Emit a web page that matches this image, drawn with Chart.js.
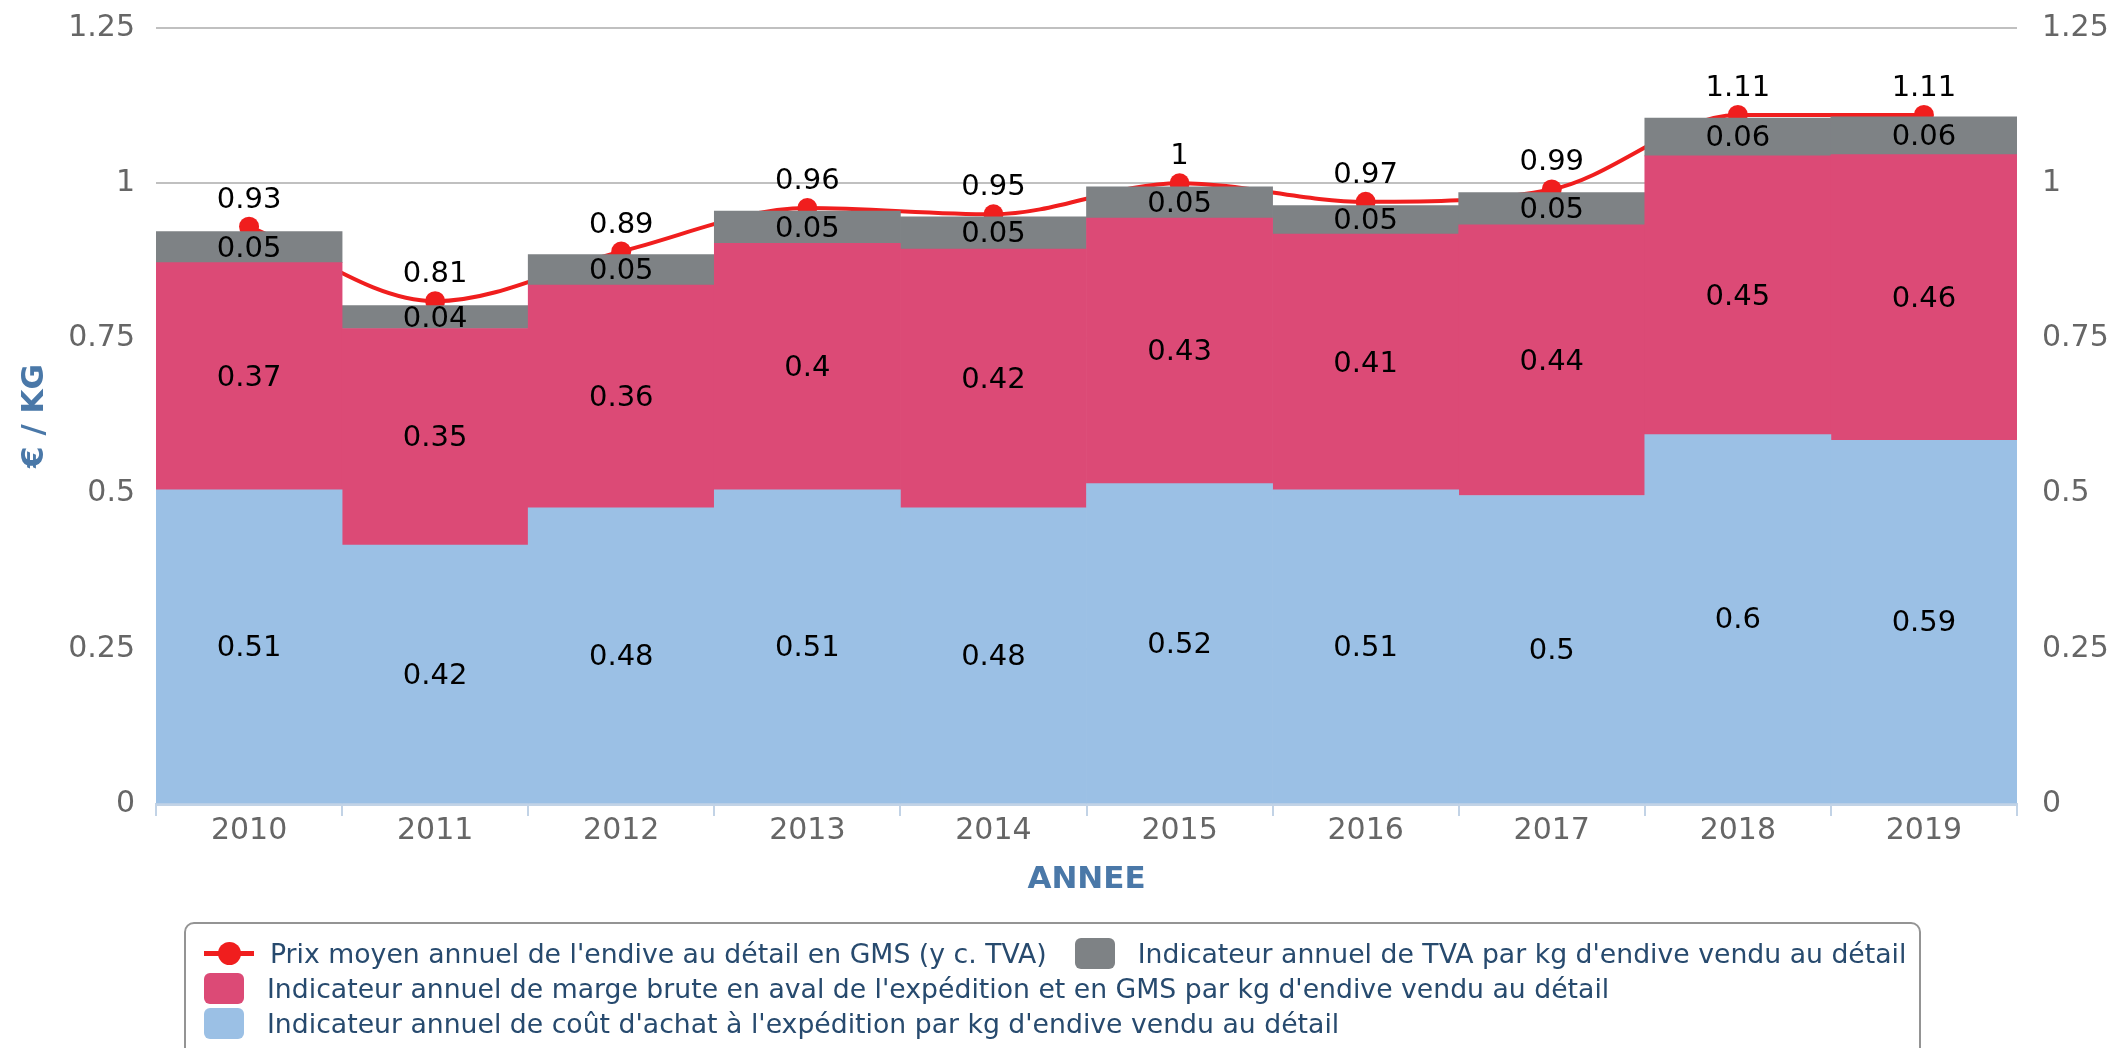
<!DOCTYPE html>
<html>
<head>
<meta charset="utf-8">
<script src="https://cdn.jsdelivr.net/npm/chart.js@4.4.1/dist/chart.umd.min.js"></script>
<style>
	body { margin: 0; background: #fff; font-family: "DejaVu Sans", sans-serif; }
	#wrap { position: relative; width: 2109px; height: 1048px; overflow: hidden; }
	#wrap canvas { position: absolute; left: 0; top: 0; }
	#legend {
		position: absolute; left: 184px; top: 922px; width: 1737px; height: 160px;
		border: 2px solid #949494; border-radius: 10px; box-sizing: border-box;
		padding: 12px 0 0 18px;
		display: flex; flex-wrap: wrap; align-content: flex-start;
	}
	.item { display: flex; align-items: center; height: 35px; margin-right: 28px; color: #274a6e; font-size: 26.7px; white-space: nowrap; }
	.item.last { margin-right: 0; }
	.mk { width: 40px; height: 31px; border-radius: 6px; margin-right: 23px; }
	.mkline { position: relative; width: 50px; height: 31px; margin-right: 16px; }
	.mkline:before { content: ""; position: absolute; left: 0; right: 0; top: 13px; height: 5px; background: #f01e1e; }
	.mkline:after { content: ""; position: absolute; left: 14px; top: 4px; width: 23px; height: 23px; border-radius: 50%; background: #f01e1e; }
</style>
</head>
<body>
<div id="wrap">
	<canvas id="chart"></canvas>
	<div id="legend"></div>
</div>
<script>
const years = ["2010", "2011", "2012", "2013", "2014", "2015", "2016", "2017", "2018", "2019"];
const coutAchat = [0.506, 0.417, 0.477, 0.506, 0.477, 0.516, 0.506, 0.497, 0.595, 0.586];
const margeBrute = [0.366, 0.349, 0.359, 0.397, 0.417, 0.428, 0.412, 0.436, 0.449, 0.46];
const tva = [0.05, 0.037, 0.049, 0.052, 0.052, 0.05, 0.046, 0.052, 0.061, 0.061];
const prixMoyen = [0.93, 0.81, 0.89, 0.96, 0.95, 1, 0.97, 0.99, 1.11, 1.11];
const yTicks = [0, 0.25, 0.5, 0.75, 1, 1.25];

const RED = "#f01e1e";
const GREY = "#7e8285";
const PINK = "#dc4a76";
const BLUE = "#9bc0e5";
const FONT = "DejaVu Sans";

const fmt = (v) => String(Math.round(v * 100) / 100);

// value labels (no datalabels plugin offline)
const valueLabels = {
	id: "valueLabels",
	afterDatasetsDraw(chart) {
		const ctx = chart.ctx;
		ctx.save();
		ctx.font = "29px " + FONT;
		ctx.fillStyle = "#000";
		ctx.textAlign = "center";
		chart.data.datasets.forEach((ds, i) => {
			const meta = chart.getDatasetMeta(i);
			meta.data.forEach((el, j) => {
				const v = ds.data[j];
				if (ds.type === "line") {
					ctx.textBaseline = "bottom";
					ctx.fillText(fmt(v), el.x, el.y - 12);
				} else {
					ctx.textBaseline = "middle";
					ctx.fillText(fmt(v), el.x, (el.y + el.base) / 2 + 2);
				}
			});
		});
		ctx.restore();
	},
};

const data = {
	labels: years,
	datasets: [
		{
			type: "line",
			label: "Prix moyen annuel de l'endive au détail en GMS (y c. TVA)",
			data: prixMoyen,
			stack: "prix",
			borderColor: RED,
			backgroundColor: RED,
			borderWidth: 4,
			pointRadius: 10,
			pointBackgroundColor: RED,
			pointBorderWidth: 0,
			cubicInterpolationMode: "monotone",
			order: 2,
		},
		{
			type: "bar",
			label: "Indicateur annuel de coût d'achat à l'expédition par kg d'endive vendu au détail",
			data: coutAchat,
			backgroundColor: BLUE,
			order: 1,
		},
		{
			type: "bar",
			label: "Indicateur annuel de marge brute en aval de l'expédition et en GMS par kg d'endive vendu au détail",
			data: margeBrute,
			backgroundColor: PINK,
			order: 1,
		},
		{
			type: "bar",
			label: "Indicateur annuel de TVA par kg d'endive vendu au détail",
			data: tva,
			backgroundColor: GREY,
			order: 1,
		},
	],
};

const tickFont = { family: FONT, size: 30 };
const titleFont = { family: FONT, size: 31, weight: "bold" };

const fitY = (w) => (s) => {
	s.width = w;
	s.paddingTop = 0;
	s.paddingBottom = 0;
};

const options = {
	responsive: true,
	maintainAspectRatio: false,
	animation: false,
	layout: { padding: { left: 0, right: 0, top: 28, bottom: 143 } },
	datasets: { bar: { barPercentage: 1, categoryPercentage: 1, borderWidth: 0 } },
	plugins: {
		legend: { display: false },
		tooltip: { enabled: false },
	},
	scales: {
		x: {
			stacked: true,
			afterFit: (s) => { s.height = 101; },
			grid: { display: true, offset: true, drawOnChartArea: false, color: "#c2d3e6", lineWidth: 2, tickLength: 12 },
			border: { color: "#c2d3e6", width: 3 },
			ticks: { color: "#666666", font: tickFont, padding: -3 },
			title: { display: true, text: "ANNEE", color: "#4a78a8", font: titleFont, padding: { top: 0, bottom: 6 } },
		},
		y: {
			stacked: true,
			min: 0,
			max: 1.25,
			afterBuildTicks: (s) => { s.ticks = yTicks.map((v) => ({ value: v })); },
			afterFit: fitY(156),
			ticks: { color: "#666666", font: tickFont, padding: 21, callback: (v) => String(v) },
			grid: { color: (c) => (c.tick && c.tick.value === 0 ? "rgba(0,0,0,0)" : "#c0c0c0"), lineWidth: 2, drawTicks: false },
			border: { display: false },
			title: { display: true, text: "€ / KG", color: "#4a78a8", font: titleFont, padding: { top: 16, bottom: 0 } },
		},
		y2: {
			position: "right",
			min: 0,
			max: 1.25,
			afterBuildTicks: (s) => { s.ticks = yTicks.map((v) => ({ value: v })); },
			afterFit: fitY(92),
			ticks: { color: "#666666", font: tickFont, padding: 25, callback: (v) => String(v) },
			grid: { display: false, drawTicks: false },
			border: { display: false },
		},
	},
};

new Chart(document.getElementById("chart"), { data: data, options: options, plugins: [valueLabels] });

// html legend, in the reference order
const legendItems = [
	{ kind: "line", text: data.datasets[0].label },
	{ kind: "box", color: GREY, text: data.datasets[3].label },
	{ kind: "box", color: PINK, text: data.datasets[2].label },
	{ kind: "box", color: BLUE, text: data.datasets[1].label },
];
const legend = document.getElementById("legend");
legendItems.forEach((it, i) => {
	const d = document.createElement("div");
	d.className = "item" + (i === 1 ? " last" : "");
	if (i >= 2) d.style.width = "100%";
	const m = document.createElement("span");
	if (it.kind === "line") {
		m.className = "mkline";
	} else {
		m.className = "mk";
		m.style.background = it.color;
	}
	d.appendChild(m);
	const t = document.createElement("span");
	t.textContent = it.text;
	d.appendChild(t);
	legend.appendChild(d);
});
</script>
</body>
</html>
